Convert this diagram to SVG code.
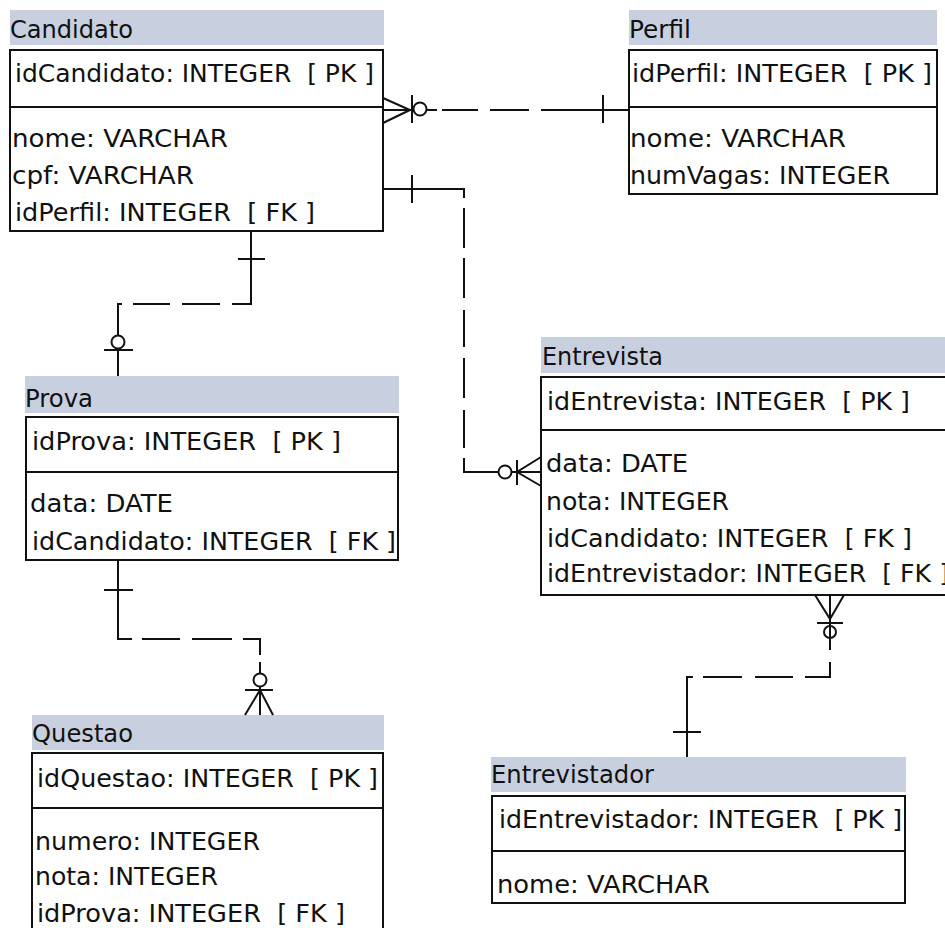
<svg xmlns="http://www.w3.org/2000/svg" width="945" height="928" viewBox="0 0 945 928" xml:space="preserve">
<style>
.hdr{fill:#c8d0df;stroke:none}
.box{fill:#fff;stroke:#111;stroke-width:2}
.div{stroke:#111;stroke-width:2}
text{font-family:"DejaVu Sans","Liberation Sans",sans-serif;font-size:24px;fill:#111;white-space:pre}
.c line,.c polyline,.c path{stroke:#111;stroke-width:2;fill:none}
.c circle{stroke:#111;stroke-width:2;fill:#fff}
</style>
<rect width="945" height="928" fill="#fff"/>

<g id="candidato">
<rect class="hdr" x="10" y="10" width="374" height="35"/>
<text x="10" y="38" textLength="123" lengthAdjust="spacingAndGlyphs">Candidato</text>
<rect class="box" x="10" y="50" width="373" height="181"/>
<line class="div" x1="10" y1="107" x2="383" y2="107"/>
<text x="15" y="82" textLength="359" lengthAdjust="spacingAndGlyphs">idCandidato: INTEGER  [ PK ]</text>
<text x="12" y="147" textLength="216" lengthAdjust="spacingAndGlyphs">nome: VARCHAR</text>
<text x="12" y="184" textLength="182" lengthAdjust="spacingAndGlyphs">cpf: VARCHAR</text>
<text x="15" y="221" textLength="300" lengthAdjust="spacingAndGlyphs">idPerfil: INTEGER  [ FK ]</text>
</g>

<g id="perfil">
<rect class="hdr" x="629" y="10" width="308" height="35"/>
<text x="629" y="38" textLength="62" lengthAdjust="spacingAndGlyphs">Perfil</text>
<rect class="box" x="629" y="50" width="308" height="144"/>
<line class="div" x1="629" y1="107" x2="937" y2="107"/>
<text x="632" y="82" textLength="300" lengthAdjust="spacingAndGlyphs">idPerfil: INTEGER  [ PK ]</text>
<text x="630" y="147" textLength="216" lengthAdjust="spacingAndGlyphs">nome: VARCHAR</text>
<text x="630" y="184" textLength="260" lengthAdjust="spacingAndGlyphs">numVagas: INTEGER</text>
</g>

<g id="prova">
<rect class="hdr" x="25" y="376" width="374" height="37"/>
<text x="25" y="407" textLength="68" lengthAdjust="spacingAndGlyphs">Prova</text>
<rect class="box" x="26" y="417" width="372" height="143"/>
<line class="div" x1="26" y1="472" x2="398" y2="472"/>
<text x="32" y="450" textLength="309" lengthAdjust="spacingAndGlyphs">idProva: INTEGER  [ PK ]</text>
<text x="30" y="512" textLength="143" lengthAdjust="spacingAndGlyphs">data: DATE</text>
<text x="32" y="550" textLength="364" lengthAdjust="spacingAndGlyphs">idCandidato: INTEGER  [ FK ]</text>
</g>

<g id="entrevista">
<rect class="hdr" x="541" y="337" width="410" height="36"/>
<text x="542" y="365" textLength="121" lengthAdjust="spacingAndGlyphs">Entrevista</text>
<rect class="box" x="541" y="377" width="410" height="218"/>
<line class="div" x1="541" y1="430" x2="951" y2="430"/>
<text x="547" y="410" textLength="363" lengthAdjust="spacingAndGlyphs">idEntrevista: INTEGER  [ PK ]</text>
<text x="546" y="472" textLength="142" lengthAdjust="spacingAndGlyphs">data: DATE</text>
<text x="546" y="510" textLength="183" lengthAdjust="spacingAndGlyphs">nota: INTEGER</text>
<text x="547" y="547" textLength="365" lengthAdjust="spacingAndGlyphs">idCandidato: INTEGER  [ FK ]</text>
<text x="547" y="582" textLength="402" lengthAdjust="spacingAndGlyphs">idEntrevistador: INTEGER  [ FK ]</text>
</g>

<g id="questao">
<rect class="hdr" x="32" y="715" width="352" height="35"/>
<text x="32" y="742" textLength="101" lengthAdjust="spacingAndGlyphs">Questao</text>
<rect class="box" x="32" y="753" width="351" height="190"/>
<line class="div" x1="32" y1="808" x2="383" y2="808"/>
<text x="37" y="787" textLength="341" lengthAdjust="spacingAndGlyphs">idQuestao: INTEGER  [ PK ]</text>
<text x="35" y="850" textLength="225" lengthAdjust="spacingAndGlyphs">numero: INTEGER</text>
<text x="35" y="885" textLength="183" lengthAdjust="spacingAndGlyphs">nota: INTEGER</text>
<text x="37" y="922" textLength="308" lengthAdjust="spacingAndGlyphs">idProva: INTEGER  [ FK ]</text>
</g>

<g id="entrevistador">
<rect class="hdr" x="491" y="757" width="415" height="35"/>
<text x="491" y="783" textLength="163" lengthAdjust="spacingAndGlyphs">Entrevistador</text>
<rect class="box" x="492" y="796" width="413" height="107"/>
<line class="div" x1="492" y1="851" x2="905" y2="851"/>
<text x="499" y="828" textLength="403" lengthAdjust="spacingAndGlyphs">idEntrevistador: INTEGER  [ PK ]</text>
<text x="497" y="893" textLength="213" lengthAdjust="spacingAndGlyphs">nome: VARCHAR</text>
</g>

<g id="connectors" class="c">
<g id="c-candidato-perfil">
<line x1="383" y1="110" x2="437" y2="110"/>
<line x1="442" y1="110" x2="478" y2="110"/>
<line x1="490" y1="110" x2="529" y2="110"/>
<line x1="541" y1="110" x2="629" y2="110"/>
<polyline points="383,98 410,110 383,123"/>
<line x1="412" y1="95" x2="412" y2="123"/>
<circle cx="420" cy="109" r="6.5"/>
<line x1="603" y1="95" x2="603" y2="123"/>
</g>
<g id="c-candidato-entrevista">
<polyline points="383,189 464,189 464,198"/>
<line x1="464" y1="208" x2="464" y2="248"/>
<line x1="464" y1="258" x2="464" y2="298"/>
<line x1="464" y1="310" x2="464" y2="347"/>
<line x1="464" y1="358" x2="464" y2="398"/>
<line x1="464" y1="410" x2="464" y2="448"/>
<polyline points="464,458 464,472 541,472"/>
<line x1="412" y1="175" x2="412" y2="203"/>
<polyline points="541,457 517,472 541,486"/>
<line x1="517" y1="460" x2="517" y2="485"/>
<circle cx="505" cy="472" r="6.5"/>
</g>
<g id="c-candidato-prova">
<polyline points="251,231 251,304 232,304"/>
<line x1="220" y1="304" x2="182" y2="304"/>
<line x1="170" y1="304" x2="133" y2="304"/>
<polyline points="122,304 118,304 118,376"/>
<line x1="238" y1="259" x2="265" y2="259"/>
<circle cx="118" cy="342" r="6.5"/>
<line x1="104" y1="350" x2="133" y2="350"/>
</g>
<g id="c-prova-questao">
<polyline points="118,560 118,639 132,639"/>
<line x1="142" y1="639" x2="180" y2="639"/>
<line x1="192" y1="639" x2="232" y2="639"/>
<polyline points="243,639 260,639 260,655"/>
<line x1="260" y1="662" x2="260" y2="715"/>
<line x1="104" y1="590" x2="133" y2="590"/>
<circle cx="260" cy="680" r="6.5"/>
<line x1="245" y1="690" x2="273" y2="690"/>
<polyline points="245,715 260,690 273,715"/>
</g>
<g id="c-entrevista-entrevistador">
<line x1="830" y1="595" x2="830" y2="650"/>
<polyline points="830,662 830,677 805,677"/>
<line x1="793" y1="677" x2="755" y2="677"/>
<line x1="742" y1="677" x2="703" y2="677"/>
<polyline points="693,677 687,677 687,757"/>
<polyline points="815,595 830,619 844,595"/>
<line x1="817" y1="623" x2="843" y2="623"/>
<circle cx="830" cy="632" r="6"/>
<line x1="830" y1="623" x2="830" y2="650"/>
<line x1="673" y1="732" x2="701" y2="732"/>
</g>
</g>
</svg>
